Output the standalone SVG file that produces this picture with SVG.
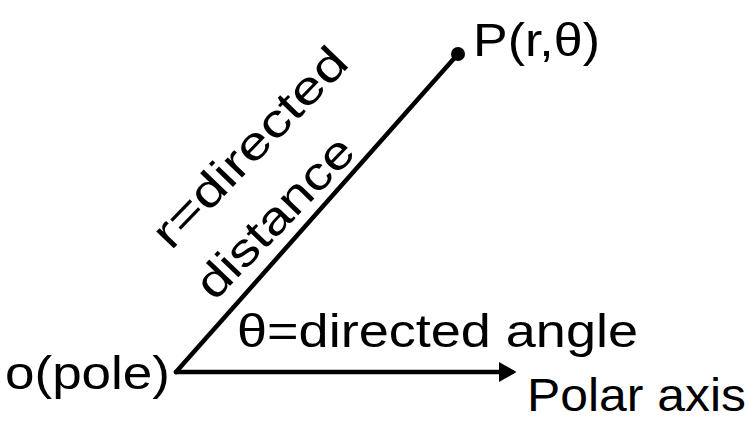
<svg xmlns="http://www.w3.org/2000/svg" width="751" height="423" viewBox="0 0 751 423">
<style>
.t{font-family:"Liberation Sans",Arial,sans-serif;font-size:46px;fill:#000}
.ln{stroke:#000;stroke-width:4.5;fill:none;stroke-linecap:round}
</style>
<defs>
<marker id="ah" markerWidth="6" markerHeight="6" refX="3" refY="3" orient="auto" markerUnits="strokeWidth">
<path d="M0,0.7 L4,3 L0,5.3 Z" fill="#000"/>
</marker>
</defs>
<rect width="751" height="423" fill="#fff"/>
<g id="connectors">
<line class="ln" x1="176" y1="372" x2="458" y2="54"/>
<line class="ln" x1="176" y1="372" x2="512" y2="372" marker-end="url(#ah)"/>
</g>
<g id="pole"><text class="t" x="5" y="389" textLength="165" lengthAdjust="spacingAndGlyphs">o(pole)</text></g>
<g id="point"><circle cx="458" cy="54" r="7" fill="#000"/><text class="t" x="473" y="56" textLength="127" lengthAdjust="spacingAndGlyphs">P(r,θ)</text></g>
<g id="angle"><text class="t" x="237" y="347" textLength="401" lengthAdjust="spacingAndGlyphs">θ=directed angle</text></g>
<g id="axis"><text class="t" x="527" y="411" font-size="44" textLength="219" lengthAdjust="spacingAndGlyphs">Polar axis</text></g>
<g id="distance">
<text class="t" text-anchor="middle" transform="translate(261,158) rotate(-46)" textLength="259" lengthAdjust="spacingAndGlyphs">r=directed</text>
<text class="t" text-anchor="middle" transform="translate(286,228) rotate(-46)" textLength="206" lengthAdjust="spacingAndGlyphs">distance</text>
</g>
</svg>
